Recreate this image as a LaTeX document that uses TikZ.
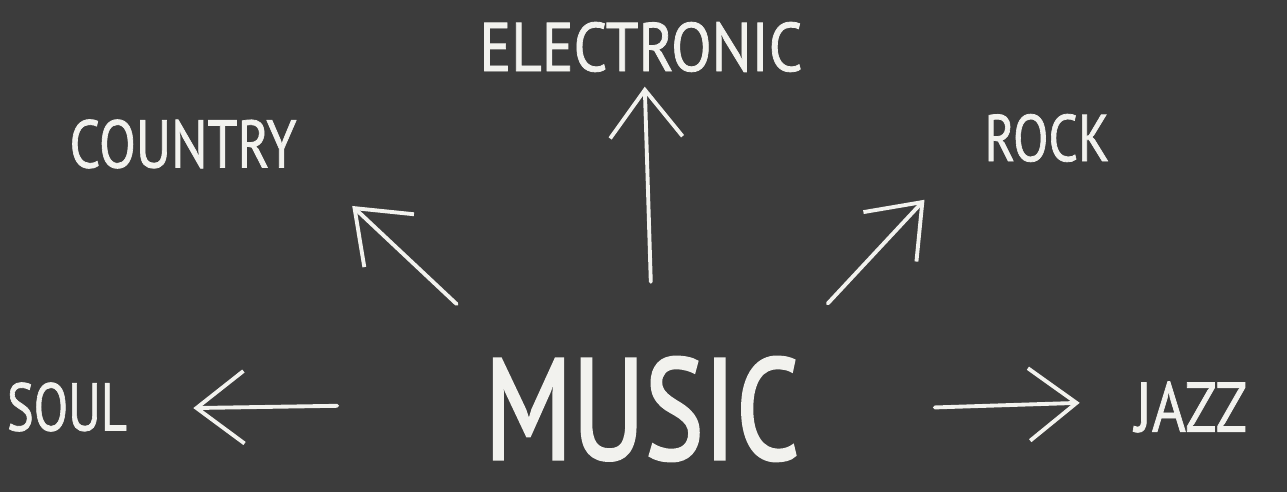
\documentclass[tikz,border=0pt]{standalone}
\usepackage{fontspec}
\setmainfont{PT Sans}
\usetikzlibrary{arrows.meta}
\definecolor{board}{HTML}{3C3C3C}
\definecolor{chalk}{HTML}{F2F2EE}
% squeeze a word into the box it takes on the board
\newcommand\chalkword[3]{\resizebox{#1}{#2}{\fontsize{40}{40}\selectfont #3}}

\begin{document}
\begin{tikzpicture}[
  x=0.02cm, y=-0.02cm,
  word/.style={inner sep=0pt, text=chalk, anchor=center},
  chalkarrow/.style={draw=chalk, line width=2.2pt, line cap=round,
    -{Straight Barb[length=0.95cm, width=1.45cm, line width=2.2pt]}},
]
  % --- the board ---
  \fill[board] (0,0) rectangle (1287,492);
  \useasboundingbox (0,0) rectangle (1287,492);

  % --- centre word ---
  \node[word] (music) at (642,409)
    {\chalkword{6.3cm}{2.04cm}{\addfontfeature{FakeBold=2.2}MUSIC}};

  % --- genres round it ---
  \foreach \name/\x/\y/\w/\h/\txt in {
      electronic/641/47/6.46cm/0.98cm/ELECTRONIC,
      country/183/144/4.54cm/0.96cm/COUNTRY,
      rock/1047/138/2.5cm/0.94cm/ROCK,
      soul/67/407/2.4cm/0.96cm/SOUL,
      jazz/1191/407/2.24cm/1.0cm/JAZZ%
  }{
    \node[word] (\name) at (\x,\y)
      {\chalkword{\w}{\h}{\addfontfeature{FakeBold=1.2}\txt}};
  }

  % --- arrows out of the centre ---
  \foreach \from/\to/\s/\e in {
      music.158/country.355.5/1.54cm/1.52cm,
      music.78/electronic.86/1.50cm/1.30cm,
      music.21/rock.178/1.46cm/1.75cm,
      music.178/soul.358/2.94cm/1.32cm,
      music.359/jazz.174/2.70cm/1.10cm%
  }{
    \draw[chalkarrow, shorten <=\s, shorten >=\e] (\from) -- (\to);
  }
\end{tikzpicture}
\end{document}
